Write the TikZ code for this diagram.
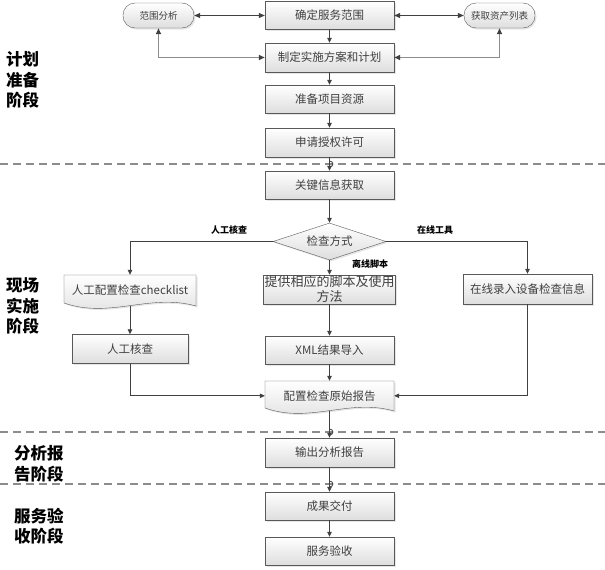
\documentclass[tikz,border=0pt]{standalone}
\usepackage{fontspec}
\setmainfont{Noto Sans CJK SC}
\usetikzlibrary{positioning}
\usetikzlibrary{arrows.meta}
\usetikzlibrary{shapes.geometric}
\usetikzlibrary{shadows}

\tikzset{
  boxshade/.style={draw=black!65, top color=white, bottom color=black!13,
    drop shadow={opacity=0.2, shadow xshift=1.5pt, shadow yshift=-1.5pt}},
  box/.style={boxshade, minimum width=129pt, minimum height=28pt, inner sep=1pt,
    text=black!75, font=\fontsize{11.5}{13}\selectfont},
  doctext/.style={minimum width=129pt, inner sep=1pt, text=black!75,
    font=\fontsize{11.5}{13}\selectfont},
  oval/.style={boxshade, rounded corners=12pt, minimum width=71pt, minimum height=25pt,
    inner sep=1pt, text=black!75, font=\fontsize{9.5}{11}\selectfont},
  phase/.style={anchor=west, align=left, inner sep=0pt,
    font=\bfseries\fontsize{16.5}{20.5}\selectfont},
  branchlabel/.style={inner sep=1pt, font=\bfseries\fontsize{9}{10}\selectfont},
  phaseline/.style={draw=black!45, line width=1.5pt, dash pattern=on 8pt off 5pt},
  conn/.style={draw=black!75, line width=0.8pt, -{Triangle[length=5pt,width=4.5pt]}},
  biconn/.style={draw=black!75, line width=0.8pt,
    {Triangle[length=6pt,width=5pt]}-{Triangle[length=6pt,width=5pt]}},
  grayconn/.style={draw=black!45, line width=1.4pt,
    {Triangle[length=6pt,width=5pt,color=black!75]}-{Triangle[length=6pt,width=5pt,color=black!75]}},
  hop/.style={draw=black!75, line width=0.8pt},
}

\begin{document}
\begin{tikzpicture}[x=1pt,y=-1pt]
  \useasboundingbox (0,0) rectangle (605,570);

  % phase separators
  \draw[phaseline] (0,164) -- (605,164);
  \draw[phaseline] (0,432) -- (605,432);
  \draw[phaseline] (0,484) -- (605,484);

  \node[phase] (plan label) at (6,80) {计划\\准备\\阶段};
  \node[phase] (site label) at (6,306) {现场\\实施\\阶段};
  \node[phase] (report label) at (14,464) {分析报\\告阶段};
  \node[phase] (accept label) at (14,526) {服务验\\收阶段};

  % planning
  \node[box] (scope) at (329.5,15.5) {确定服务范围};
  \node[oval] (scopeana) at (158.5,15.5) {范围分析};
  \node[oval] (assetlist) at (499.5,15.5) {获取资产列表};
  \node[box, minimum height=29pt] (plan) at (329.5,57.5) {制定实施方案和计划};
  \node[box] (res) at (329.5,99) {准备项目资源};
  \node[box, minimum height=29pt] (auth) at (329.5,142.5) {申请授权许可};

  % on site
  \node[box] (keyinfo) at (329.5,185) {关键信息获取};
  \node[diamond, boxshade, aspect=3, minimum width=113pt, minimum height=37pt, inner sep=0pt,
    text=black!75, font=\fontsize{11.5}{13}\selectfont] (method) at (329.5,241.5) {检查方式};
  \node[box, align=center, font=\fontsize{13}{15}\selectfont] (script) at (329.5,289.5)
    {提供相应的脚本及使用\\方法};
  \path[boxshade] (64,275) -- (196,275) -- (196,306)
    .. controls (150,293) and (110,319) .. (64,303) -- cycle;
  \node[doctext, minimum width=132pt, minimum height=30.6pt] (checklist) at (130,290.3)
    {人工配置检查checklist};
  \node[box, minimum height=30pt] (online) at (527.5,289) {在线录入设备检查信息};
  \node[box, minimum width=116pt, minimum height=29pt] (manual) at (130,349) {人工核查};
  \node[box] (xml) at (329.5,350) {XML结果导入};
  \path[boxshade] (265,381) -- (394,381) -- (394,411)
    .. controls (349,398) and (310,424) .. (265,408) -- cycle;
  \node[doctext, minimum height=29.6pt] (report) at (329.5,395.8) {配置检查原始报告};

  % report and acceptance
  \node[box, minimum height=29pt] (output) at (329.5,452.5) {输出分析报告};
  \node[box] (deliver) at (329.5,506) {成果交付};
  \node[box] (accept) at (329.5,551) {服务验收};

  \node[branchlabel] (lblmanual) at (229,230) {人工核查};
  \node[branchlabel] (lblonline) at (435,230) {在线工具};
  \node[branchlabel] (lbloffline) at (370,264) {离线脚本};

  % connectors
  \draw[biconn] (scopeana) -- (scope);
  \draw[biconn] (assetlist) -- (scope);
  \draw[grayconn] (scopeana.south) |- (plan.west);
  \draw[grayconn] (assetlist.south) |- (plan.east);
  \draw[conn] (scope) -- (plan);
  \draw[conn] (plan) -- (res);
  \draw[conn] (res) -- (auth);
  \draw[conn] (auth) -- (keyinfo);
  \draw[conn] (keyinfo) -- (method);
  \draw[conn] (method.west) -| (checklist.north);
  \draw[conn] (method.east) -| (online.north);
  \draw[conn] (method.south) -- (script.north);
  \draw[conn] (checklist) -- (manual);
  \draw[conn] (script) -- (xml);
  \draw[conn] (xml) -- (report);
  \draw[conn] (manual.south) |- (report.west);
  \draw[conn] (online.south) |- (report.east);
  \draw[conn] (report) -- (output);
  \draw[conn] (output) -- (deliver);
  \draw[conn] (deliver) -- (accept);

  % line hops over the separators
  \draw[hop] (329.5,161) .. controls (334,161) and (334,167) .. (329.5,167);
  \draw[hop] (329.5,429) .. controls (334,429) and (334,435) .. (329.5,435);
  \draw[hop] (329.5,481) .. controls (334,481) and (334,487) .. (329.5,487);
\end{tikzpicture}
\end{document}
